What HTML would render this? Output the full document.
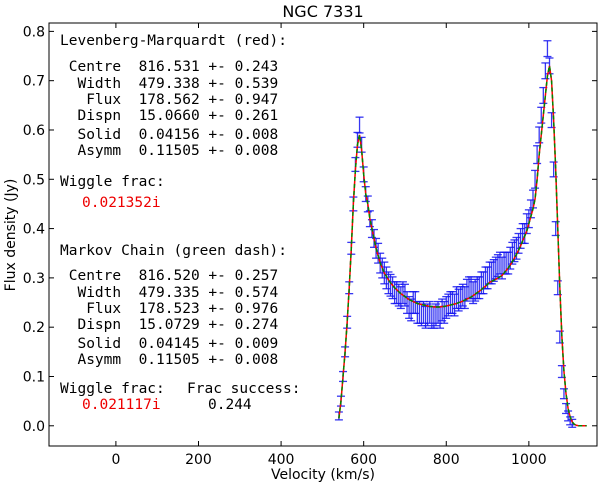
<!DOCTYPE html>
<html><head><meta charset="utf-8"><style>
body{margin:0;background:#fff;}
svg{display:block;}
.mono{font-family:"DejaVu Sans Mono","Liberation Mono",monospace;font-size:14.5px;white-space:pre;}
.tick{font-family:"DejaVu Sans","Liberation Sans",sans-serif;font-size:14px;}
</style></head><body>
<svg id="chart" width="600" height="486" xmlns="http://www.w3.org/2000/svg">
<text x="323" y="17" text-anchor="middle" class="tick" style="font-size:16px">NGC 7331</text>
<text x="323" y="479" text-anchor="middle" class="tick">Velocity (km/s)</text>
<text transform="translate(15,235) rotate(-90)" text-anchor="middle" class="tick">Flux density (Jy)</text>
<g id="plot"></g>
<g>
<text class="mono" x="60" y="45">Levenberg-Marquardt (red):</text>
<text class="mono" x="60" y="71"> Centre  816.531 +- 0.243</text>
<text class="mono" x="60" y="88">  Width  479.338 +- 0.539</text>
<text class="mono" x="60" y="104">   Flux  178.562 +- 0.947</text>
<text class="mono" x="60" y="120">  Dispn  15.0660 +- 0.261</text>
<text class="mono" x="60" y="139">  Solid  0.04156 +- 0.008</text>
<text class="mono" x="60" y="155">  Asymm  0.11505 +- 0.008</text>
<text class="mono" x="60" y="186">Wiggle frac:</text>
<text class="mono" x="82" y="207" fill="#e00">0.021352i</text>
<text class="mono" x="60" y="255">Markov Chain (green dash):</text>
<text class="mono" x="60" y="280"> Centre  816.520 +- 0.257</text>
<text class="mono" x="60" y="297">  Width  479.335 +- 0.574</text>
<text class="mono" x="60" y="313">   Flux  178.523 +- 0.976</text>
<text class="mono" x="60" y="329">  Dispn  15.0729 +- 0.274</text>
<text class="mono" x="60" y="348">  Solid  0.04145 +- 0.009</text>
<text class="mono" x="60" y="364">  Asymm  0.11505 +- 0.008</text>
<text class="mono" x="60" y="393">Wiggle frac:</text>
<text class="mono" x="187" y="393">Frac success:</text>
<text class="mono" x="82" y="409" fill="#e00">0.021117i</text>
<text class="mono" x="208" y="409">0.244</text>
</g>
</svg>
<script>
const xTicks=[0,200,400,600,800,1000];
const yTicks=[0.0,0.1,0.2,0.3,0.4,0.5,0.6,0.7,0.8];
const yTickLabels=["0.0","0.1","0.2","0.3","0.4","0.5","0.6","0.7","0.8"];
const modelV0=540, modelStep=5;
const modelFlux=[.015,.05,.10,.15,.21,.28,.36,.45,.52,.57,.59,.56,.51,.47,.45,.42,.40,.38,.36,.345,.33,.32,.31,.303,.296,.29,.285,.28,.276,.272,.268,.265,.262,.259,.256,.254,.252,.250,.248,.247,.246,.245,.244,.243,.242,.242,.241,.241,.241,.241,.242,.242,.243,.244,.245,.246,.247,.248,.250,.251,.253,.255,.257,.259,.261,.264,.267,.270,.273,.276,.280,.283,.287,.291,.293,.295,.297,.300,.302,.305,.310,.315,.320,.326,.333,.340,.348,.356,.365,.375,.385,.395,.410,.425,.440,.460,.500,.550,.590,.630,.670,.710,.730,.700,.620,.520,.400,.280,.180,.110,.065,.035,.018,.008,.003,.001,0,0,0,0,0];
const dataFlux=[.02,.05,.10,.15,.21,.28,.36,.45,.53,.58,.61,.57,.51,.47,.45,.42,.40,.38,.36,.35,.33,.32,.31,.30,.29,.285,.28,.27,.27,.265,.26,.27,.265,.25,.24,.235,.25,.25,.23,.23,.225,.23,.22,.225,.23,.22,.22,.225,.23,.22,.235,.23,.24,.245,.25,.25,.245,.26,.255,.26,.265,.26,.275,.28,.28,.27,.275,.28,.28,.29,.29,.30,.30,.31,.31,.315,.32,.325,.33,.32,.33,.33,.33,.34,.35,.355,.36,.37,.38,.39,.39,.41,.42,.44,.46,.50,.55,.59,.63,.67,.72,.765,.73,.62,.52,.40,.28,.18,.11,.065,.035,.02,.01,.005];
const dataErr=[.008,.01,.01,.01,.012,.012,.012,.014,.014,.015,.016,.015,.015,.015,.016,.016,.018,.018,.02,.02,.02,.02,.022,.022,.022,.022,.022,.022,.022,.022,.022,.022,.022,.022,.022,.022,.022,.022,.022,.022,.022,.022,.022,.022,.022,.022,.022,.022,.022,.022,.022,.022,.022,.022,.022,.022,.022,.022,.022,.022,.022,.022,.022,.022,.022,.022,.022,.022,.022,.022,.022,.022,.022,.022,.022,.022,.022,.022,.022,.022,.022,.022,.022,.022,.022,.022,.022,.02,.02,.02,.02,.02,.018,.018,.018,.018,.018,.016,.016,.016,.016,.016,.016,.015,.015,.014,.014,.012,.012,.01,.01,.01,.008,.008];
const L=49,R=597,T=23,B=446, xmin=-162, xmax=1165, ymin=-0.041, ymax=0.817;
const xs=v=>L+(v-xmin)/(xmax-xmin)*(R-L);
const ys=f=>B-(f-ymin)/(ymax-ymin)*(B-T);
const NS='http://www.w3.org/2000/svg';
const plot=document.getElementById('plot');
function mk(tag,attrs){const e=document.createElementNS(NS,tag);for(const k in attrs)e.setAttribute(k,attrs[k]);plot.appendChild(e);return e;}
dataFlux.forEach((f,i)=>{
  const v=modelV0+i*modelStep, x=xs(v), e=dataErr[i];
  const g=document.createElementNS(NS,'g');
  
  
  g.setAttribute('stroke','rgba(20,20,240,0.85)');g.setAttribute('stroke-width','1.3');
  const y1=ys(f-e),y2=ys(f+e);
  g.innerHTML=`<line x1="${x}" x2="${x}" y1="${y1}" y2="${y2}"/><line x1="${x-4}" x2="${x+4}" y1="${y1}" y2="${y1}"/><line x1="${x-4}" x2="${x+4}" y1="${y2}" y2="${y2}"/>`;
  plot.appendChild(g);
});
const pts=modelFlux.map((f,i)=>xs(modelV0+i*modelStep).toFixed(2)+','+ys(f).toFixed(2)).join(' ');
const red=mk('polyline',{points:pts,fill:'none',stroke:'#f00','stroke-width':1.5});


const grn=mk('polyline',{points:pts,fill:'none',stroke:'#080','stroke-width':1.5,'stroke-dasharray':'4,3'});


const fr=mk('rect',{x:L,y:T,width:R-L,height:B-T,fill:'none',stroke:'#000','stroke-width':1});


xTicks.forEach(v=>{
  const x=xs(v);
  mk('line',{x1:x,x2:x,y1:B,y2:B-5,stroke:'#000'});
  mk('line',{x1:x,x2:x,y1:T,y2:T+5,stroke:'#000'});
  const t=mk('text',{x:x,y:B+18,'text-anchor':'middle',class:'tick'});
  t.textContent=v;
  
  
});
yTicks.forEach((f,i)=>{
  const y=ys(f);
  mk('line',{x1:L,x2:L+5,y1:y,y2:y,stroke:'#000'});
  mk('line',{x1:R,x2:R-5,y1:y,y2:y,stroke:'#000'});
  const t=mk('text',{x:L-4,y:y+5,'text-anchor':'end',class:'tick'});
  t.textContent=yTickLabels[i];
  
  
});
</script>
</body></html>
